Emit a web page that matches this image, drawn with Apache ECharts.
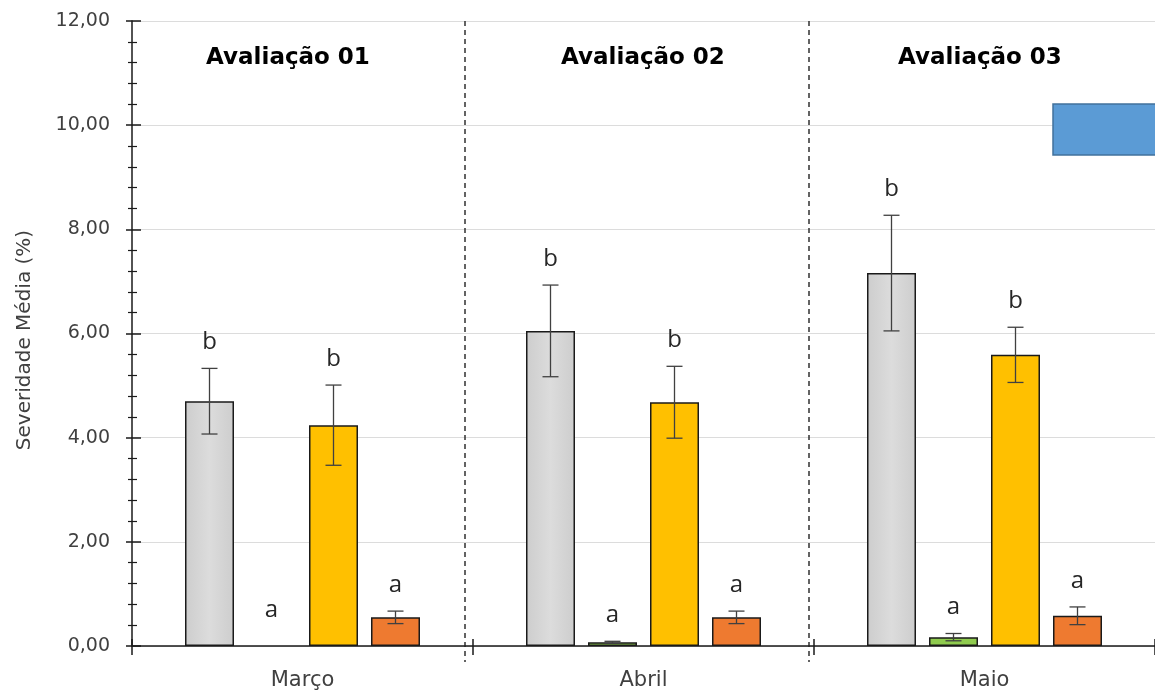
<!DOCTYPE html>
<html><head><meta charset="utf-8">
<script src="https://cdn.jsdelivr.net/npm/echarts@6/dist/echarts.min.js"></script>
<style>html,body{margin:0;padding:0;background:#fff}#c{width:1155px;height:694px}</style>
</head><body><div id="c"></div>
<script>
const months = ['Março', 'Abril', 'Maio'];
const panelTitles = ['Avaliação 01', 'Avaliação 02', 'Avaliação 03'];
const yAxisTitle = 'Severidade Média (%)';
const seriesNames = ['Testemunha', 'Tratamento 2', 'Tratamento 3', 'Tratamento 4'];
const values1 = [4.70, 6.05, 7.16];
const values2 = [0.00, 0.07, 0.17];
const values3 = [4.24, 4.68, 5.59];
const values4 = [0.55, 0.55, 0.58];
const errors1 = [0.63, 0.88, 1.11];
const errors2 = [0.00, 0.02, 0.07];
const errors3 = [0.77, 0.69, 0.53];
const errors4 = [0.12, 0.12, 0.17];
const letters1 = ['b', 'b', 'b'];
const letters2 = ['a', 'a', 'a'];
const letters3 = ['b', 'b', 'b'];
const letters4 = ['a', 'a', 'a'];

const allValues = [values1, values2, values3, values4];
const allErrors = [errors1, errors2, errors3, errors4];
const allLetters = [letters1, letters2, letters3, letters4];
const colors = [
  {type:'linear',x:0,y:0,x2:1,y2:0,colorStops:[{offset:0,color:'#CDCDCD'},{offset:0.5,color:'#DCDCDC'},{offset:1,color:'#CDCDCD'}]},
  '#8FCB4E', '#FFC000', '#EE7A30'
];
const BAR_W = 49, BAR_GAP = 13;
const FONT = '"DejaVu Sans", "Noto Sans", sans-serif';
const LFONT = '"Open Sans", "Noto Sans", sans-serif';

const errRows = [];
allValues.forEach((vals, s) => vals.forEach((v, c) => errRows.push([c, s, v, allErrors[s][c], allLetters[s][c]])));

const barSeries = allValues.map((vals, s) => ({
  type: 'bar', name: seriesNames[s],
  data: vals.map(v => v === 0 ? { value: v, itemStyle: { borderWidth: 0 } } : v),
  barWidth: BAR_W, barGap: (BAR_GAP / BAR_W * 100) + '%',
  itemStyle: { color: colors[s], borderColor: '#1a1a1a', borderWidth: 1.5 }, z: 3
}));

const errSeries = {
  type: 'custom', data: errRows, z: 5,
  renderItem: function (params, api) {
    const c = api.value(0), s = api.value(1), v = api.value(2), e = api.value(3);
    const letter = errRows[params.dataIndex][4];
    const off = (s - 1.5) * (BAR_W + BAR_GAP);
    const base = api.coord([c, v]);
    const x = base[0] + off;
    const top = api.coord([c, v + e])[1];
    const bot = api.coord([c, v - e])[1];
    const children = [];
    const ls = { stroke: '#404040', lineWidth: 1.3 };
    if (e > 0) {
      children.push({ type: 'line', shape: { x1: x, y1: top, x2: x, y2: bot }, style: ls });
      children.push({ type: 'line', shape: { x1: x - 8, y1: top, x2: x + 8, y2: top }, style: ls });
      children.push({ type: 'line', shape: { x1: x - 8, y1: bot, x2: x + 8, y2: bot }, style: ls });
    }
    const ly = (v === 0 ? top - 10 : top) - 26;
    children.push({ type: 'text', style: { text: letter, x: x, y: ly, align: 'center', verticalAlign: 'middle',
      font: '24px ' + LFONT, fill: '#262626' } });
    return { type: 'group', children: children };
  }
};

const graphics = [];
const titleX = [288, 643, 980];
panelTitles.forEach((t, i) => graphics.push({ type: 'text', x: titleX[i], y: 58, z: 10,
  style: { text: t, align: 'center', verticalAlign: 'middle', font: 'bold 23px ' + FONT, fill: '#000' } }));
[465, 809].forEach(x => graphics.push({ type: 'line', z: 10, shape: { x1: x, y1: 21, x2: x, y2: 662 },
  style: { stroke: '#222', lineWidth: 1.4, lineDash: [5, 4] } }));
graphics.push({ type: 'rect', z: 10, shape: { x: 1053, y: 104, width: 110, height: 51 },
  style: { fill: '#5B9BD5', stroke: '#41719C', lineWidth: 1.5 } });
graphics.push({ type: 'text', x: 25, y: 340, rotation: Math.PI / 2, z: 10,
  style: { text: yAxisTitle, align: 'center', verticalAlign: 'middle', font: '20px ' + FONT, fill: '#404040' } });

const chart = echarts.init(document.getElementById('c'), null, { renderer: 'canvas' });
chart.setOption({
  animation: false,
  backgroundColor: '#fff',
  grid: { left: 132, right: -3, top: 21, bottom: 48, containLabel: false },
  xAxis: [{
    type: 'category', data: months,
    axisLine: { lineStyle: { color: '#1a1a1a', width: 1.5 } },
    axisTick: { show: true, interval: 0, length: 9, lineStyle: { color: '#1a1a1a', width: 1.5 } },
    axisLabel: { fontSize: 21, color: '#404040', fontFamily: FONT, margin: 24 },
    splitLine: { show: false }
  }, {
    type: 'category', data: months, position: 'bottom',
    axisLine: { show: false },
    axisTick: { show: true, inside: true, interval: 0, length: 7, lineStyle: { color: '#1a1a1a', width: 1.5 } },
    axisLabel: { show: false }, splitLine: { show: false }
  }],
  yAxis: [{
    type: 'value', min: 0, max: 12, interval: 2,
    axisLine: { show: true, lineStyle: { color: '#1a1a1a', width: 1.5 } },
    axisTick: { show: true, length: 6, lineStyle: { color: '#1a1a1a', width: 1.5 } },
    minorTick: { show: true, splitNumber: 5, length: 4, lineStyle: { color: '#1a1a1a', width: 1.2 } },
    axisLabel: { fontSize: 19, color: '#404040', fontFamily: FONT, margin: 22,
      formatter: v => v.toFixed(2).replace('.', ',') },
    splitLine: { show: true, lineStyle: { color: '#DCDCDC', width: 1.2 } }
  }, {
    type: 'value', min: 0, max: 12, interval: 2, position: 'left',
    axisLine: { show: false },
    axisTick: { show: true, inside: true, length: 9, lineStyle: { color: '#1a1a1a', width: 1.5 } },
    minorTick: { show: true, splitNumber: 5, length: 5, lineStyle: { color: '#1a1a1a', width: 1.2 } },
    axisLabel: { show: false }, splitLine: { show: false }
  }],
  series: barSeries.concat([errSeries]),
  graphic: graphics
});
</script></body></html>
